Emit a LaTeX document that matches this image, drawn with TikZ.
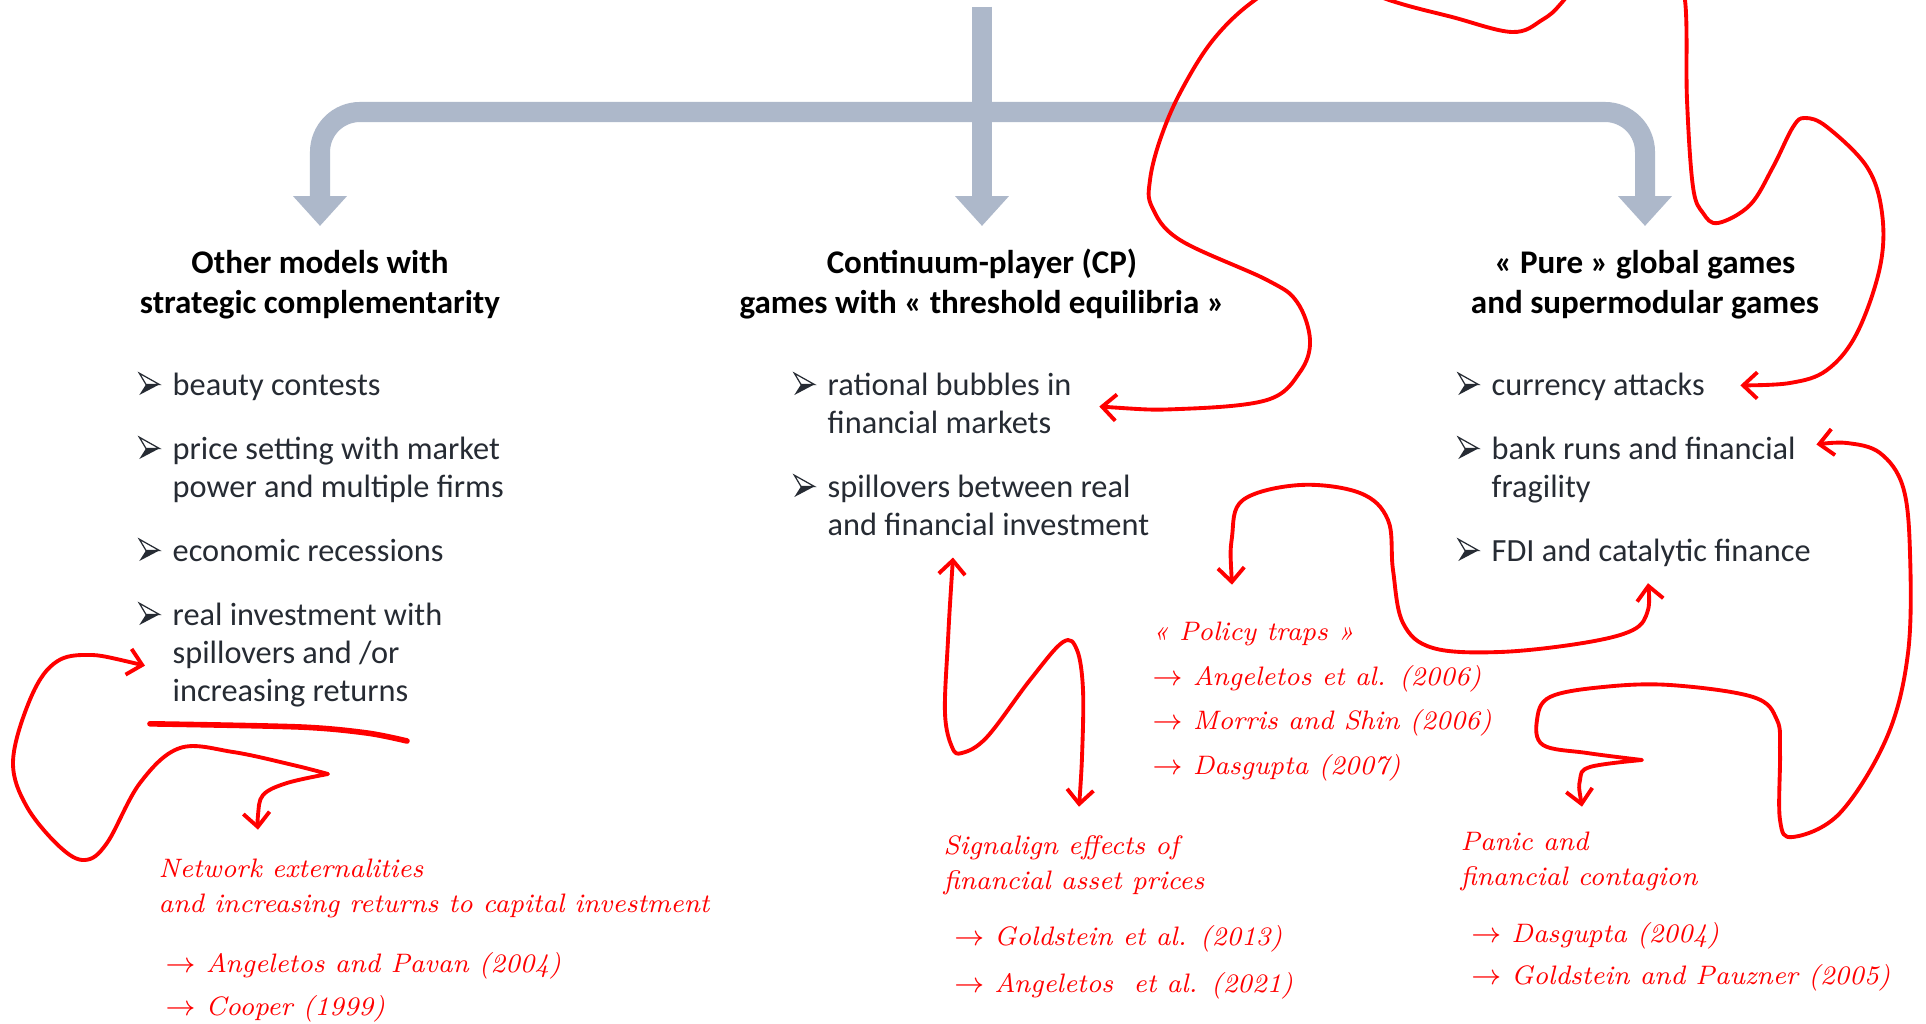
\documentclass[tikz,border=0pt]{standalone}
\usepackage{fontspec}
\usepackage{amsmath}
\usetikzlibrary{arrows.meta}

\newfontfamily\bodyfont{Carlito}
\definecolor{trunkgrey}{HTML}{ADB8CA}
\definecolor{inkred}{HTML}{FF0000}
\definecolor{bodytext}{HTML}{262B33}

\newcommand\bul{\tikz[baseline=0pt, x=1pt, y=1pt, line width=0.35pt, line join=miter]{%
    \filldraw[draw=bodytext, fill=white] (0,6.2) -- (5.7,3.0) -- (1.9,3.0) -- cycle;
    \fill[bodytext] (0,0) -- (5.7,3.0) -- (1.9,3.0) -- cycle;}}
\newcommand\bitem[1]{\begin{tabular}[t]{@{}l@{}l@{}}\makebox[9.67pt][l]{\bul} & #1\end{tabular}}
\newcommand\head[1]{\begin{tabular}[t]{@{}c@{}}#1\end{tabular}}
\newcommand\notes[1]{\begin{tabular}[t]{@{}l@{}}#1\end{tabular}}

\begin{document}
\begin{tikzpicture}[x=0.1mm, y=-0.1mm,
    trunk/.style={draw=trunkgrey, line width=5.7pt, -{Triangle[width=14.8pt,length=8.5pt]}},
    heading/.style={anchor=base, inner sep=0pt, font=\bodyfont\fontsize{9.4}{11.1}\selectfont\bfseries},
    itembox/.style={anchor=base west, inner sep=0pt, text=bodytext, font=\bodyfont\fontsize{9.2}{10.9}\selectfont},
    refbox/.style={anchor=base west, inner sep=0pt, text=inkred, font=\fontsize{7.6}{10}\selectfont\itshape},
    ink/.style={draw=inkred, line width=1.1pt, line cap=round, line join=round,
        {Straight Barb[length=4pt,width=7.5pt]}-{Straight Barb[length=4pt,width=7.5pt]}}]
    \useasboundingbox (0,0) rectangle (1926,1024);
    \clip (0,0) rectangle (1926,1024);
    \fill[white] (0,0) rectangle (1926,1024);

    % headings
    \node[heading] (hOther) at (320,274) {\head{Other models with\\strategic complementarity}};
    \node[heading] (hCP) at (982,274) {\head{Continuum-player (CP)\\games with « threshold equilibria »}};
    \node[heading] (hPure) at (1645,274) {\head{« Pure » global games\\and supermodular games}};

    \coordinate (root) at (982,7);
    \coordinate (fork) at (982,112);
    \draw[trunk] (root) -- ([shift={(0,-20)}]hCP.north);
    \draw[trunk, rounded corners=0.4cm] (fork) -| ([shift={(0,-20)}]hOther.north);
    \draw[trunk, rounded corners=0.4cm] (fork) -| ([shift={(0,-20)}]hPure.north);

    % items
    \node[itembox] (oBeauty) at (138,395) {\bitem{beauty contests}};
    \node[itembox] (oPrice) at (138,459) {\bitem{price setting with market\\ & power and multiple firms}};
    \node[itembox] (oRecess) at (138,561) {\bitem{economic recessions}};
    \node[itembox] (oReal) at (138,625) {\bitem{real investment with\\ & spillovers and /or\\ & increasing returns}};

    \node[itembox] (cBubble) at (793,395) {\bitem{rational bubbles in\\ & financial markets}};
    \node[itembox] (cSpill) at (793,497) {\bitem{spillovers between real\\ & and financial investment}};

    \node[itembox] (pCurrency) at (1457,395) {\bitem{currency attacks}};
    \node[itembox] (pBank) at (1457,459) {\bitem{bank runs and financial\\ & fragility}};
    \node[itembox] (pFDI) at (1457,561) {\bitem{FDI and catalytic finance}};

    % handwritten notes
    \node[refbox] (rNetwork) at (158,877) {\notes{Network externalities\\and increasing returns to capital investment\\[7.1pt]
        \hspace{2pt}$\rightarrow$ Angeletos and Pavan (2004)\\[2.2pt]\hspace{2pt}$\rightarrow$ Cooper (1999)}};
    \node[refbox] (rSignal) at (943,854) {\notes{Signalign effects of\\financial asset prices\\[5.9pt]
        \hspace{3pt}$\rightarrow$ Goldstein et al. (2013)\\[3.4pt]\hspace{3pt}$\rightarrow$ Angeletos\ \ et al. (2021)}};
    \node[refbox] (rTraps) at (1152,640) {\notes{« Policy traps »\\[2.9pt]
        $\rightarrow$ Angeletos et al. (2006)\\[2.5pt]$\rightarrow$ Morris and Shin (2006)\\[3pt]$\rightarrow$ Dasgupta (2007)}};
    \node[refbox] (rPanic) at (1460,850) {\notes{Panic and\\financial contagion\\[6.2pt]
        \hspace{3pt}$\rightarrow$ Dasgupta (2004)\\[2.2pt]\hspace{3pt}$\rightarrow$ Goldstein and Pauzner (2005)}};

    \coordinate (uStart) at ([shift={(12,10)}]oReal.south west);
    \draw[inkred, line width=1.6pt, line cap=round] plot[smooth] coordinates {(uStart) (300,727) (367,733) (407,741)};

    \coordinate (tReal) at ([shift={(7,10)}]oReal.west);
    \coordinate (tNetwork) at ([shift={(100,-22)}]rNetwork.north west);
    \draw[ink] plot[smooth, tension=0.6] coordinates {(tReal) (83,655) (50,667) (27,707) (13,763) (27,807) (60,847) (85,860) (107,843) (140,783) (180,748) (233,752) (293,765) (328,774)}
        -- plot[smooth, tension=0.6] coordinates {(328,774) (287,783) (263,795) (258,815) (tNetwork)};

    \coordinate (tBubble) at ([shift={(27,0)}]cBubble.east);
    \coordinate (tCurrency) at ([shift={(35,-2)}]pCurrency.east);
    \draw[ink] plot[smooth, tension=0.6] coordinates {(tBubble) (1180,409) (1267,400) (1300,372) (1310,340) (1297,302) (1267,280) (1180,240) (1152,207) (1150,180) (1160,140) (1180,93) (1213,40) (1255,0) (1310,-30) (1389,0) (1452,17) (1512,32) (1542,20) (1564,0) (1610,-60) (1670,-50) (1685,0) (1687,100) (1693,187) (1703,213) (1718,223) (1750,205) (1773,167) (1793,127) (1805,118) (1827,127) (1867,167) (1882,213) (1880,267) (1857,333) (1827,370) (1790,383) (tCurrency)};

    \coordinate (tSpill) at ([shift={(160,10)}]cSpill.south west);
    \coordinate (tSignal) at ([shift={(136,-22)}]rSignal.north west);
    \draw[ink] plot[smooth, tension=0.6] coordinates {(tSpill) (948,640) (945,713) (952,747) (962,753) (987,737) (1030,680) (1063,642) (1077,650) (1083,690) (1082,757) (tSignal)};

    \coordinate (tTraps) at ([shift={(80,-30)}]rTraps.north west);
    \coordinate (tFDI) at ([shift={(191,10)}]pFDI.south west);
    \draw[ink] plot[smooth, tension=0.6] coordinates {(tTraps) (1232,537) (1243,500) (1300,485) (1360,493) (1388,520) (1393,570) (1403,623) (1433,648) (1500,652) (1583,643) (1633,630) (1648,610) (tFDI)};

    \coordinate (tPanic) at ([shift={(122,-18)}]rPanic.north west);
    \coordinate (tBank) at ([shift={(20,13)}]pBank.north east);
    \draw[ink] plot[smooth, tension=0.6] coordinates {(tPanic) (1580,780) (1590,767) (1642,760)}
        -- plot[smooth, tension=0.6] coordinates {(1642,760) (1587,753) (1543,745) (1537,720) (1550,697) (1603,687) (1670,685) (1753,697) (1777,720) (1780,753) (1780,820) (1793,837) (1840,813) (1887,737) (1908,653) (1910,553) (1903,487) (1880,453) (1847,443) (tBank)};
\end{tikzpicture}
\end{document}
